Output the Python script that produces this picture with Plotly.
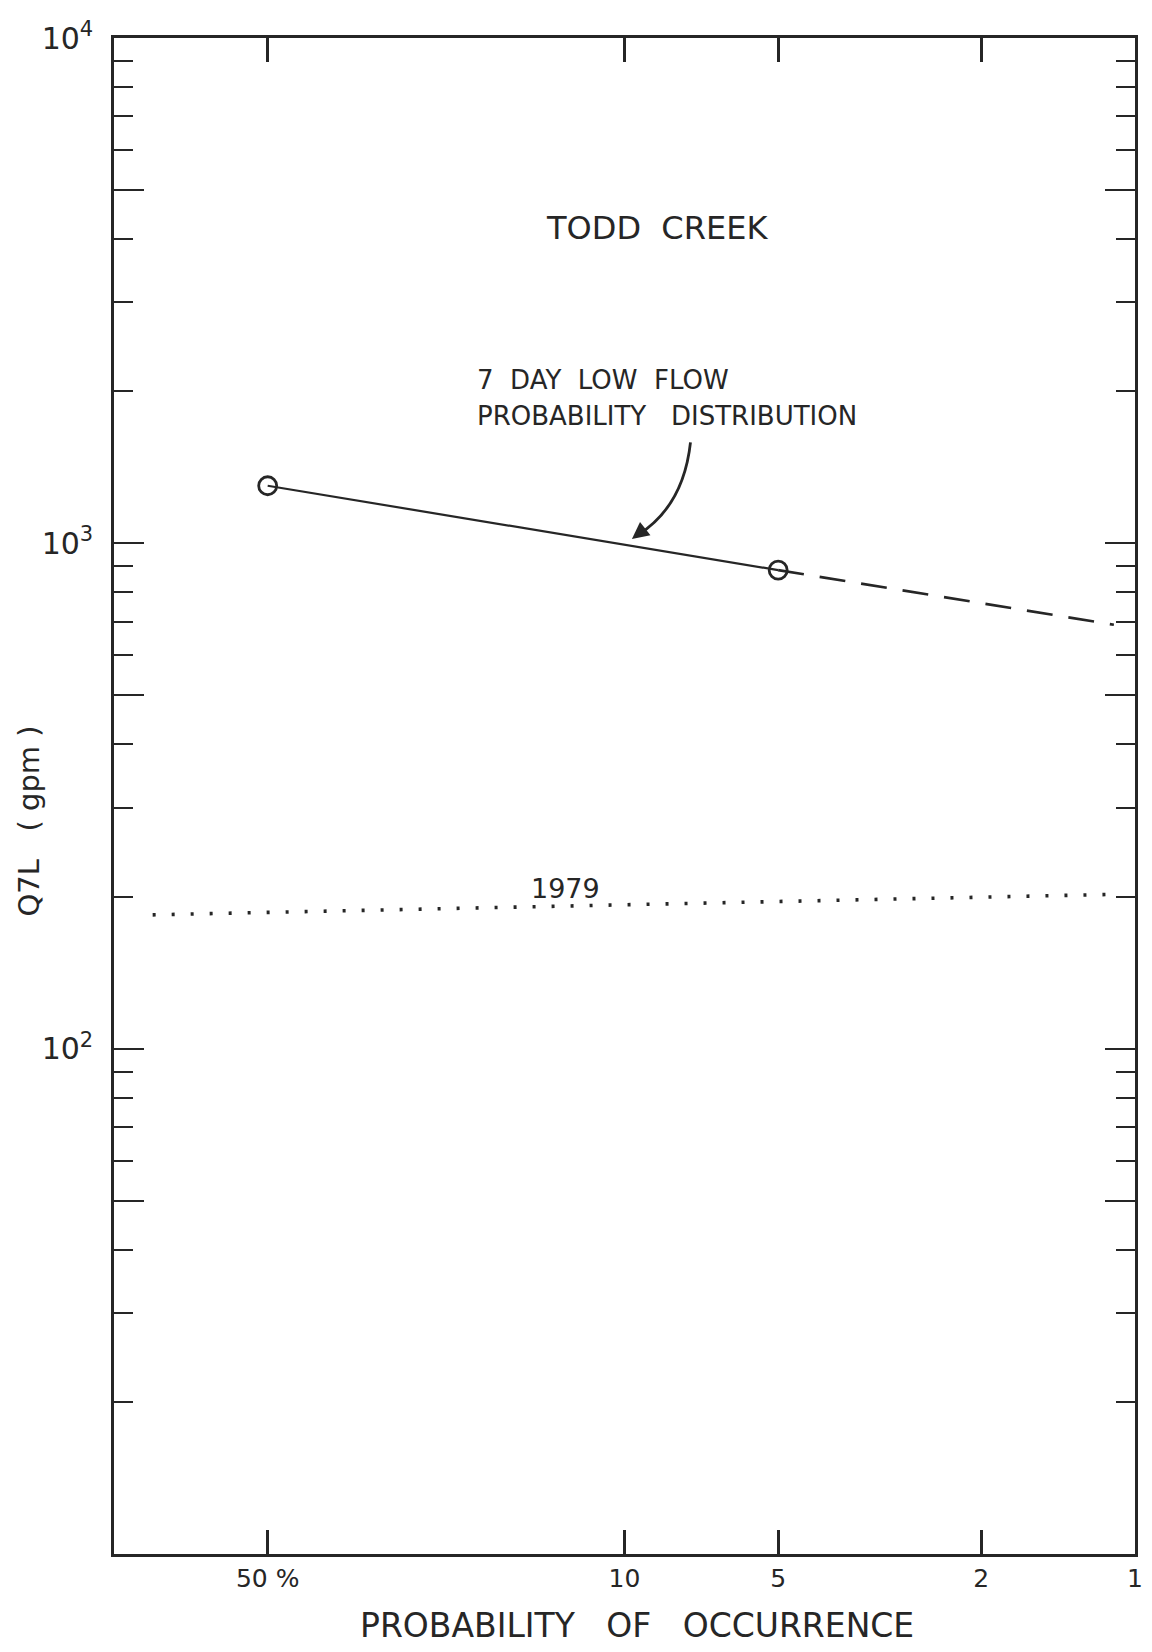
import plotly.graph_objects as go

# ---- data ----
prob_fit = [50, 5]            # % probability of occurrence (solid segment)
q7l_fit = [1300, 885]         # gpm
prob_ext = [5, 1.1]           # dashed extrapolation
q7l_ext = [885, 690]
prob_1979 = [84, 1.1]         # 1979 observed level (dotted)
q7l_1979 = [184, 202]

x_tickvals = [50, 10, 5, 2, 1]
x_ticktext = ["50 %", "10", "5", "2", "1"]
y_tickvals = [10, 50, 100, 500, 1000, 5000, 10000]
y_ticktext = ["", "", "10<sup>2</sup>", "", "10<sup>3</sup>", "", "10<sup>4</sup>"]
y_minor = [m * 10 ** e for e in (1, 2, 3) for m in (2, 3, 4, 6, 7, 8, 9)]

INK = "#262626"
FONT = "DejaVu Sans"

fig = go.Figure()
fig.add_trace(go.Scatter(
    x=prob_1979, y=q7l_1979, mode="lines",
    line=dict(color=INK, width=3.6, dash="3px,16px"),
    showlegend=False, hoverinfo="skip"))
fig.add_trace(go.Scatter(
    x=prob_ext, y=q7l_ext, mode="lines",
    line=dict(color=INK, width=2.6, dash="26px,16px"),
    showlegend=False, hoverinfo="skip"))
fig.add_trace(go.Scatter(
    x=prob_fit, y=q7l_fit, mode="lines+markers",
    line=dict(color=INK, width=2.2),
    marker=dict(symbol="circle-open", size=18, color=INK,
                line=dict(color=INK, width=2.8)),
    showlegend=False, hoverinfo="skip"))

# the page body has an 8px margin, so the figure is sized to fit inside it
OFF = 8
W, H = 1152 - OFF, 1652 - OFF
L, R, T, B = 114 - OFF, 9, 32 - OFF, 98
pw, ph = W - L - R, H - T - B


def px(xp):
    return (xp - OFF - L) / pw


def py(yp):
    return (H - B - (yp - OFF)) / ph


annotations = [
    dict(text="TODD  CREEK", x=px(661), y=py(223), xanchor="center", yanchor="middle",
         font=dict(size=32, color=INK, family=FONT)),
    dict(text="7  DAY  LOW  FLOW", x=px(478), y=py(375), xanchor="left", yanchor="middle",
         font=dict(size=26, color=INK, family=FONT)),
    dict(text="PROBABILITY   DISTRIBUTION", x=px(478), y=py(411), xanchor="left", yanchor="middle",
         font=dict(size=26, color=INK, family=FONT)),
    dict(text="1979", x=px(569), y=py(886), xanchor="center", yanchor="middle",
         font=dict(size=27, color=INK, family=FONT)),
    dict(text="PROBABILITY   OF   OCCURRENCE", x=px(641), y=py(1626), xanchor="center", yanchor="middle",
         font=dict(size=33, color=INK, family=FONT)),
    dict(text="Q7L   ( gpm )", x=px(28), y=py(818), xanchor="center", yanchor="middle",
         textangle=-90, font=dict(size=29, color=INK, family=FONT)),
    # arrow head of the curved pointer
    dict(text="", x=px(636), y=py(535), showarrow=True, arrowhead=2, arrowsize=1.3,
         arrowwidth=2.6, arrowcolor=INK, ax=14, ay=-11, axref="pixel", ayref="pixel"),
]
for a in annotations:
    a.setdefault("xref", "paper")
    a.setdefault("yref", "paper")
    a.setdefault("showarrow", False)

p0 = (px(695), py(438))
c0 = (px(688), py(502))
p1 = (px(642), py(531))
shapes = [dict(type="path", xref="paper", yref="paper",
               path=f"M {p0[0]},{p0[1]} Q {c0[0]},{c0[1]} {p1[0]},{p1[1]}",
               line=dict(color=INK, width=2.8))]

fig.update_layout(
    width=W, height=H, autosize=False,
    margin=dict(l=L, r=R, t=T, b=B),
    paper_bgcolor="white", plot_bgcolor="white",
    annotations=annotations, shapes=shapes,
    font=dict(family=FONT, color=INK),
    xaxis=dict(type="log", range=[2, 0], tickmode="array",
               tickvals=x_tickvals, ticktext=x_ticktext,
               ticks="inside", ticklen=24, tickwidth=2.6, tickcolor=INK,
               showline=True, linewidth=2.6, linecolor=INK, mirror="ticks",
               showgrid=False, zeroline=False, ticklabelstandoff=0,
               ticklabeloverflow="allow",
               tickfont=dict(size=25, color=INK, family=FONT)),
    yaxis=dict(type="log", range=[1, 4], tickmode="array",
               tickvals=y_tickvals, ticktext=y_ticktext,
               ticks="inside", ticklen=30, tickwidth=2.4, tickcolor=INK,
               minor=dict(tickmode="array", tickvals=y_minor, ticks="inside",
                          ticklen=19, tickwidth=2.2, tickcolor=INK, showgrid=False),
               showline=True, linewidth=2.6, linecolor=INK, mirror="ticks",
               showgrid=False, zeroline=False, ticklabelstandoff=12,
               tickfont=dict(size=30, color=INK, family=FONT)),
)

fig.write_html("out.html")
